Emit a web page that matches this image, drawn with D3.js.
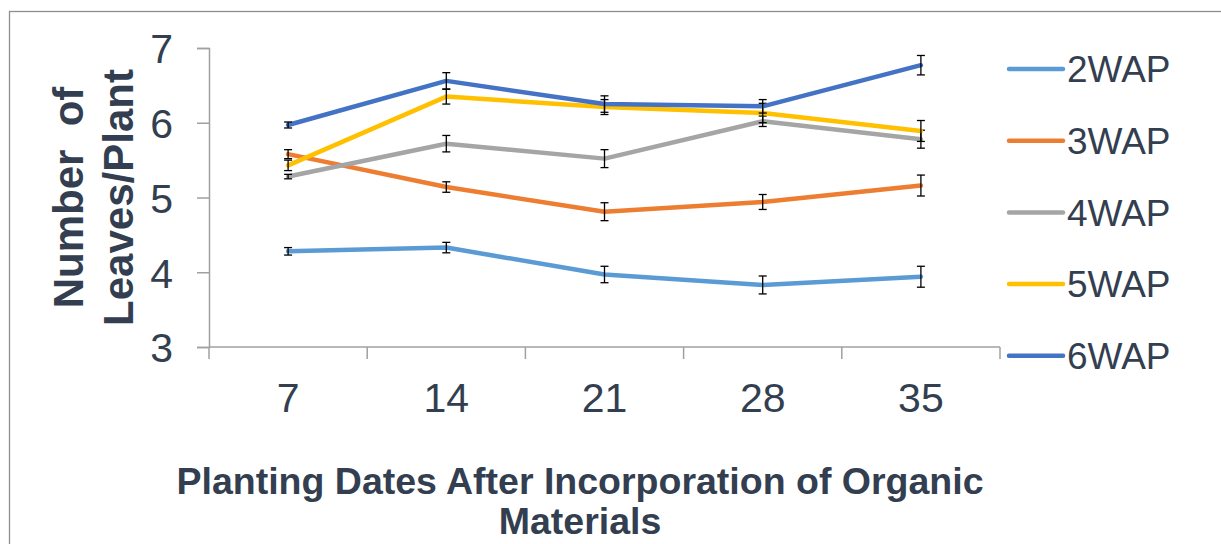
<!DOCTYPE html>
<html>
<head>
<meta charset="utf-8">
<script src="https://cdn.jsdelivr.net/npm/d3@7"></script>
<style>
  html, body { margin: 0; padding: 0; background: #ffffff; }
  svg { display: block; }
  text { font-family: Arial, "Liberation Sans", sans-serif; fill: #333f50; }
</style>
</head>
<body>
<svg id="chart" width="1221" height="544"></svg>
<script>
// Planting dates (days after incorporation of organic materials)
const categories = ["7", "14", "21", "28", "35"];

// Mean number of leaves per plant at each sampling week, with error bars
const seriesNames = ["2WAP", "3WAP", "4WAP", "5WAP", "6WAP"];
const wap2 = [4.28, 4.33, 3.97, 3.83, 3.94];
const wap3 = [5.58, 5.14, 4.81, 4.94, 5.16];
const wap4 = [5.28, 5.72, 5.52, 6.02, 5.78];
const wap5 = [5.43, 6.35, 6.21, 6.13, 5.89];
const wap6 = [5.97, 6.56, 6.25, 6.22, 6.77];

const err2 = [0.05, 0.07, 0.11, 0.12, 0.14];
const err3 = [0.06, 0.07, 0.12, 0.10, 0.14];
const err4 = [0.03, 0.11, 0.12, 0.07, 0.12];
const err5 = [0.07, 0.10, 0.10, 0.13, 0.14];
const err6 = [0.04, 0.11, 0.11, 0.09, 0.13];

const yTicks = [3, 4, 5, 6, 7];
const colors = ["#5b9bd5", "#ed7d31", "#a5a5a5", "#ffc000", "#4472c4"];

const series = seriesNames.map((name, i) => ({
  name,
  color: colors[i],
  values: [wap2, wap3, wap4, wap5, wap6][i],
  errors: [err2, err3, err4, err5, err6][i]
}));

const svg = d3.select("#chart");
const axisColor = "#a0a0a0";

// chart frame
svg.append("rect")
  .attr("x", 9.5).attr("y", 11.5)
  .attr("width", 1300).attr("height", 600)
  .attr("fill", "none").attr("stroke", "#8f8f8f").attr("stroke-width", 1.3);

const plot = { left: 209, right: 1000, top: 48, bottom: 347 };

const x = d3.scaleBand().domain(categories).range([plot.left, plot.right]).padding(0);
const y = d3.scaleLinear().domain([3, 7]).range([plot.bottom, plot.top]);
const cx = c => x(c) + x.bandwidth() / 2;

// y axis
const yAxis = svg.append("g")
  .attr("transform", `translate(${plot.left},0)`)
  .call(d3.axisLeft(y).tickValues(yTicks).tickFormat(d3.format("d")).tickSize(12).tickPadding(24));
yAxis.select(".domain").attr("stroke", axisColor).attr("stroke-width", 1.5);
yAxis.selectAll(".tick line").attr("stroke", axisColor).attr("stroke-width", 1.5);
yAxis.selectAll(".tick text")
  .attr("font-size", 41).attr("fill", "#333f50").attr("dy", "0.36em");

// x axis: labels at category centres, ticks on category boundaries
const xAxis = svg.append("g")
  .attr("transform", `translate(0,${plot.bottom})`)
  .call(d3.axisBottom(x).tickSize(0).tickPadding(0));
xAxis.select(".domain").remove();
xAxis.selectAll(".tick text")
  .attr("font-size", 41).attr("fill", "#333f50")
  .attr("y", 65).attr("dy", 0);

const boundaries = categories.map(c => x(c)).concat([x.range()[1]]);
svg.append("line")
  .attr("x1", plot.left).attr("x2", plot.right)
  .attr("y1", plot.bottom).attr("y2", plot.bottom)
  .attr("stroke", axisColor).attr("stroke-width", 1.5);
svg.selectAll(".xtick").data(boundaries).enter().append("line")
  .attr("class", "xtick")
  .attr("x1", d => d).attr("x2", d => d)
  .attr("y1", plot.bottom).attr("y2", plot.bottom + 12)
  .attr("stroke", axisColor).attr("stroke-width", 1.5);

// series lines with error bars
const line = d3.line().x((d, i) => cx(categories[i])).y(d => y(d));
series.forEach(s => {
  const g = svg.append("g");
  g.append("path")
    .attr("d", line(s.values))
    .attr("fill", "none").attr("stroke", s.color)
    .attr("stroke-width", 4.5).attr("stroke-linejoin", "round").attr("stroke-linecap", "round");
  s.values.forEach((v, i) => {
    const px = cx(categories[i]);
    const e = s.errors[i];
    const eb = g.append("g").attr("stroke", "#000").attr("stroke-width", 1.3);
    eb.append("line").attr("x1", px).attr("x2", px).attr("y1", y(v + e)).attr("y2", y(v - e));
    eb.append("line").attr("x1", px - 4).attr("x2", px + 4).attr("y1", y(v + e)).attr("y2", y(v + e));
    eb.append("line").attr("x1", px - 4).attr("x2", px + 4).attr("y1", y(v - e)).attr("y2", y(v - e));
  });
});

// y axis title
const yTitle = ["Number  of", "Leaves/Plant"];
yTitle.forEach((t, i) => {
  svg.append("text")
    .attr("transform", `translate(${83 + i * 50},${(plot.top + plot.bottom) / 2}) rotate(-90)`)
    .attr("text-anchor", "middle")
    .attr("font-size", 42).attr("font-weight", "bold")
    .style("white-space", "pre")
    .text(t);
});

// x axis title
const xTitle = ["Planting Dates After Incorporation of Organic", "Materials"];
xTitle.forEach((t, i) => {
  svg.append("text")
    .attr("x", 580).attr("y", 494 + i * 40)
    .attr("text-anchor", "middle")
    .attr("font-size", 37.5).attr("font-weight", "bold")
    .text(t);
});

// legend
const legend = svg.append("g");
series.forEach((s, i) => {
  const ly = 69 + i * 71.7;
  legend.append("line")
    .attr("x1", 1009).attr("x2", 1063).attr("y1", ly).attr("y2", ly)
    .attr("stroke", s.color).attr("stroke-width", 4.5).attr("stroke-linecap", "round");
  legend.append("text")
    .attr("x", 1067).attr("y", ly + 13.3)
    .attr("font-size", 37)
    .text(s.name);
});
</script>
</body>
</html>
